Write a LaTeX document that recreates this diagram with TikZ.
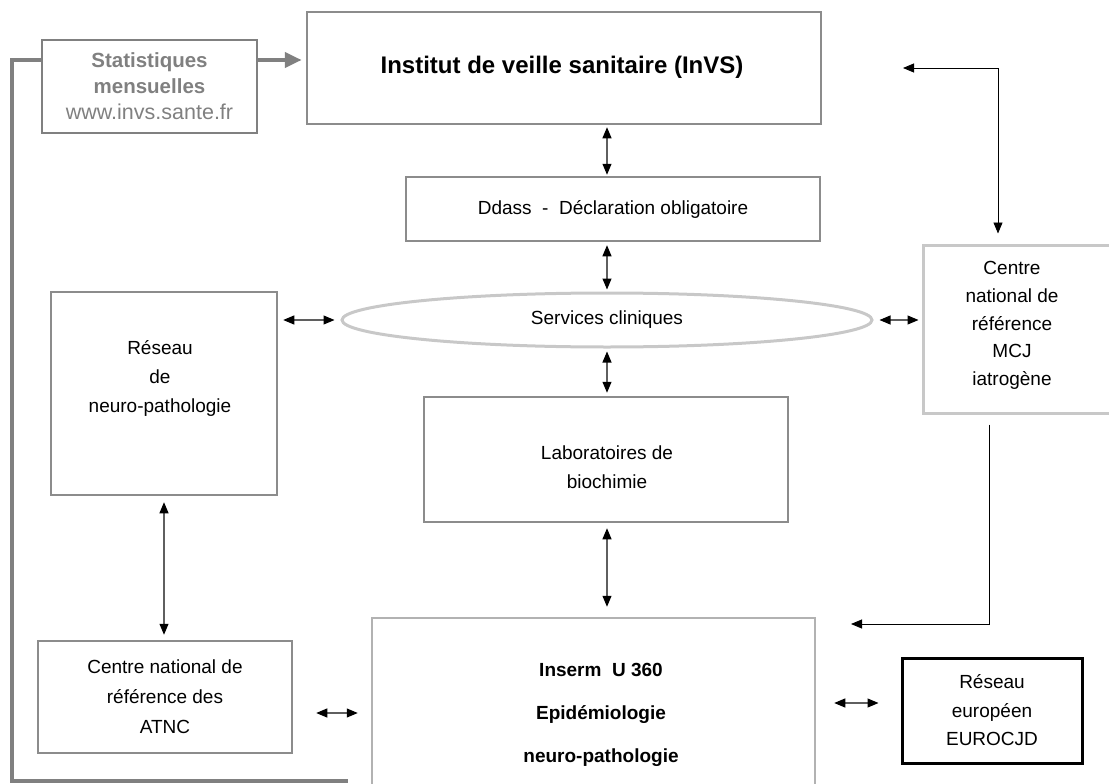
\documentclass[tikz,border=0pt]{standalone}
\usepackage{fontspec}
\setmainfont{Liberation Sans}
\usetikzlibrary{arrows.meta,shapes.geometric}

\definecolor{framegray}{RGB}{128,128,128}
\definecolor{boxgray}{RGB}{140,140,140}
\definecolor{palegray}{RGB}{200,200,200}
\definecolor{midgray}{RGB}{178,178,178}
\definecolor{linkgray}{RGB}{95,95,95}

\begin{document}
\begin{tikzpicture}[x=1pt, y=-1pt,
    box/.style={draw=boxgray, line width=2.5pt, inner sep=0pt, align=center,
      font=\fontsize{19}{29}\selectfont},
    txt/.style={inner sep=0pt, align=center, font=\fontsize{19}{29}\selectfont},
    link/.style={draw=linkgray, line width=1.1pt,
      {Triangle[length=11pt,width=9pt,color=black]}-{Triangle[length=11pt,width=9pt,color=black]}},
    feed/.style={draw=black, line width=0.9pt, -{Triangle[length=11pt,width=9pt]}},
    statline/.style={draw=framegray, line width=4.5pt}]

  \useasboundingbox (0,0) rectangle (1109,784);
  \clip (0,0) rectangle (1109,784);

  % boxes
  \node[box, minimum width=514pt, minimum height=112pt] (invs) at (564,68) {};
  \node[txt, font=\fontsize{24}{29}\selectfont\bfseries] (invstxt) at (562,67)
    {Institut de veille sanitaire (InVS)};
  \node[box, draw=framegray, text=framegray, line width=2pt, minimum width=215pt,
    minimum height=93pt, font=\fontsize{20.5}{26}\selectfont] (stat) at (149.5,86.5)
    {\textbf{Statistiques}\\\textbf{mensuelles}\\{\fontsize{21.5}{26}\selectfont www.invs.sante.fr}};
  \node[box, minimum width=414pt, minimum height=64pt] (ddass) at (613,209)
    {Ddass\ \ -\ \ Déclaration obligatoire};
  \node[ellipse, draw=palegray, line width=3pt, minimum width=530pt, minimum height=54pt,
    inner sep=0pt, font=\fontsize{19}{29}\selectfont] (cliniques) at (607,320) {Services cliniques};
  \node[box, minimum width=226pt, minimum height=203pt] (reseau) at (164,393.5) {};
  \node[txt] (reseautxt) at (160,378) {Réseau\\de\\neuro-pathologie};
  \node[box, draw=palegray, line width=3pt, minimum width=240pt, minimum height=168pt]
    (mcj) at (1043,329) {};
  \node[txt, font=\fontsize{19}{27.8}\selectfont] (mcjtxt) at (1012,325.5)
    {Centre\\national de\\référence\\MCJ\\iatrogène};
  \node[box, minimum width=364pt, minimum height=125pt] (labo) at (606,459.5) {};
  \node[txt] (labotxt) at (607,467) {Laboratoires de\\biochimie};
  \node[box, minimum width=254pt, minimum height=112pt, font=\fontsize{19}{30}\selectfont]
    (atnc) at (165,697) {Centre national de\\référence des\\ATNC};
  \node[box, draw=midgray, minimum width=443pt, minimum height=240pt] (inserm) at (593.5,738) {};
  \node[txt, font=\fontsize{19}{43}\selectfont\bfseries] (insermtxt) at (601,715)
    {Inserm\ \ U 360\\Epidémiologie\\neuro-pathologie};
  \node[box, draw=black, line width=3pt, minimum width=180pt, minimum height=105pt,
    font=\fontsize{19}{28.5}\selectfont] (euro) at (992,710.5) {Réseau\\européen\\EUROCJD};

  % free ends
  \coordinate (topbend) at (998,68);
  \coordinate (invsin) at (903,68);
  \coordinate (lowbend) at (989,624);
  \coordinate (insermin) at (851,624);
  \coordinate (framecorner) at (12,60);
  \coordinate (framebottom) at (12,781);
  \coordinate (frameend) at (348,781);

  % vertical chain
  \draw[link, shorten <=2pt, shorten >=1pt] (cliniques |- invs.south) -- (cliniques |- ddass.north);
  \draw[link, shorten <=3pt, shorten >=2pt] (cliniques |- ddass.south) -- (cliniques.north);
  \draw[link, shorten <=3pt, shorten >=3pt] (cliniques.south) -- (cliniques |- labo.north);
  \draw[link, shorten <=5pt, shorten >=10pt] (cliniques |- labo.south) -- (cliniques |- inserm.north);
  % sideways links
  \draw[link, shorten <=5pt, shorten >=6pt] (reseau.east |- cliniques.west) -- (cliniques.west);
  \draw[link, shorten <=6pt, shorten >=3pt] (cliniques.east) -- (cliniques.east -| mcj.west);
  \draw[link, shorten <=6pt, shorten >=5pt] (reseau.south) -- (reseau.south |- atnc.north);
  \draw[link, shorten <=23pt, shorten >=13pt] ([yshift=-16pt]atnc.east) -- ([yshift=-16pt]atnc.east -| inserm.west);
  \draw[link, shorten <=18pt, shorten >=22pt] ([yshift=7.5pt]euro.west -| inserm.east) -- ([yshift=7.5pt]euro.west);
  % MCJ feedback
  \draw[feed, {Triangle[length=11pt,width=9pt]}-{Triangle[length=11pt,width=9pt]}, shorten >=10pt]
    (invsin) -- (topbend) -- (topbend |- mcj.north);
  \draw[feed, shorten <=10pt] (mcj.south -| lowbend) -- (lowbend) -- (insermin);
  % monthly statistics
  \draw[statline, -{Triangle[length=17pt,width=15pt]}, shorten >=4pt]
    ([yshift=26.5pt]stat.east) -- ([yshift=26.5pt]stat.east -| invs.west);
  \draw[statline] ([yshift=26.5pt]stat.west) -- (framecorner) -- (framebottom) -- (frameend);
\end{tikzpicture}
\end{document}
